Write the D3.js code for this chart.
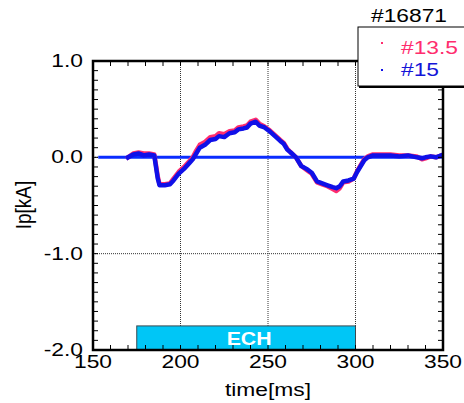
<!DOCTYPE html>
<html>
<head>
<meta charset="utf-8">
<script src="https://cdn.jsdelivr.net/npm/d3@7"></script>
<style>
  html, body { margin: 0; padding: 0; background: #ffffff; }
  svg { display: block; }
  text { font-family: "Liberation Sans", Arial, sans-serif; }
</style>
</head>
<body>
<svg id="chart" width="464" height="403"></svg>
<script>
// Plasma current Ip for shot #16871, two ECH settings
const timeMs = [170,173,176,179,182,185,186,187,188,191,194,196,199,202,205,207,209,211,214,217,220,222,225,228,231,233,236,238,240,243,245,248,251,254,257,259,261,263,266,269,272,275,278,281,284,287,289,291,293,296,299,301,303,305,307,310,315,320,325,330,335,338,340,343,346,349];
const ip135 = [0.00,0.04,0.05,0.04,0.04,0.03,-0.08,-0.20,-0.28,-0.28,-0.27,-0.22,-0.15,-0.10,-0.04,0.00,0.07,0.13,0.16,0.21,0.22,0.25,0.24,0.27,0.28,0.31,0.32,0.33,0.37,0.39,0.35,0.32,0.28,0.23,0.18,0.15,0.09,0.05,0.00,-0.09,-0.13,-0.17,-0.26,-0.28,-0.30,-0.33,-0.35,-0.32,-0.26,-0.25,-0.22,-0.14,-0.08,-0.02,0.01,0.03,0.03,0.03,0.02,0.02,0.01,-0.02,-0.01,0.01,0.00,0.02];
const ip15 = [0.00,0.03,0.04,0.02,0.03,0.02,-0.10,-0.22,-0.29,-0.29,-0.28,-0.24,-0.17,-0.12,-0.06,-0.02,0.04,0.10,0.13,0.18,0.19,0.22,0.21,0.25,0.26,0.29,0.30,0.31,0.35,0.37,0.33,0.31,0.27,0.22,0.17,0.14,0.08,0.05,0.00,-0.09,-0.12,-0.16,-0.25,-0.27,-0.29,-0.31,-0.32,-0.30,-0.25,-0.24,-0.22,-0.15,-0.09,-0.03,0.00,0.02,0.02,0.02,0.01,0.02,0.00,-0.01,0.00,0.01,0.00,0.02];
const baselineTime = [153, 350];
const baselineIp = [0, 0];
const echWindow = [175, 300];
const echLevel = [-2.0, -1.75];
const xTicks = [150, 200, 250, 300, 350];
const yTicks = [1.0, 0.0, -1.0, -2.0];
const seriesNames = ["#13.5", "#15"];
const shotLabel = "#16871";

const svg = d3.select("#chart");
const x = d3.scaleLinear().domain([150, 350]).range([93, 443]);
const y = d3.scaleLinear().domain([-2, 1]).range([350, 61]);
const SX = 1.2; // horizontal stretch of the lettering
const FS = 19;

const redC = "#ff2d6e", blueC = "#1010e8";

function label(g, px, py, str, opts) {
  const t = g.append("text")
    .attr("transform", `translate(${px},${py}) scale(${opts.sx || SX},1)`)
    .attr("font-size", opts.size || FS)
    .attr("text-anchor", opts.anchor || "start")
    .attr("fill", opts.fill || "#000")
    .text(str);
  if (opts.weight) t.attr("font-weight", opts.weight);
  return t;
}

// dotted grid
const grid = svg.append("g");
[200, 250, 300].forEach(v => grid.append("line")
  .attr("x1", x(v)).attr("x2", x(v)).attr("y1", y(1)).attr("y2", y(-2))
  .attr("stroke", "#333").attr("stroke-width", 1).attr("stroke-dasharray", "1,1"));
[0, -1].forEach(v => grid.append("line")
  .attr("x1", x(150)).attr("x2", x(350)).attr("y1", y(v)).attr("y2", y(v))
  .attr("stroke", "#333").attr("stroke-width", 1).attr("stroke-dasharray", "1,1"));

// ECH pulse bar
svg.append("rect")
  .attr("x", x(echWindow[0])).attr("y", y(echLevel[1]))
  .attr("width", x(echWindow[1]) - x(echWindow[0]))
  .attr("height", y(echLevel[0]) - y(echLevel[1]))
  .attr("fill", "#00c6f6").attr("stroke", "#3a4a50").attr("stroke-width", 1);
label(svg, (x(echWindow[0]) + x(echWindow[1])) / 2 + 3, 345, "ECH",
  { size: 19, sx: 1.12, anchor: "middle", fill: "#fff", weight: "bold" });

// traces
const line = d3.line().x(d => x(d[0])).y(d => y(d[1]));
svg.append("path")
  .attr("d", line(baselineTime.map((t, i) => [t, baselineIp[i]])))
  .attr("fill", "none").attr("stroke", "#0a2cff").attr("stroke-width", 3);
svg.append("path")
  .attr("d", line(timeMs.map((t, i) => [t, ip135[i]])))
  .attr("fill", "none").attr("stroke", redC).attr("stroke-width", 4.5)
  .attr("stroke-linejoin", "round").attr("stroke-linecap", "square");
svg.append("path")
  .attr("d", line(timeMs.map((t, i) => [t, ip15[i]])))
  .attr("fill", "none").attr("stroke", blueC).attr("stroke-width", 4.5)
  .attr("stroke-linejoin", "round").attr("stroke-linecap", "square");

// frame with inward minor ticks on all four sides
const frame = svg.append("g").attr("fill", "none").attr("stroke", "#000");
const minorX = d3.range(150, 351, 10);
const minorY = d3.range(-20, 11, 1).map(v => v / 10);
const tk = 5;
minorX.forEach(v => {
  frame.append("line").attr("x1", x(v)).attr("x2", x(v)).attr("y1", y(-2)).attr("y2", y(-2) - tk).attr("stroke-width", 1);
  frame.append("line").attr("x1", x(v)).attr("x2", x(v)).attr("y1", y(1)).attr("y2", y(1) + tk).attr("stroke-width", 1);
});
minorY.forEach(v => {
  frame.append("line").attr("x1", x(150)).attr("x2", x(150) + tk).attr("y1", y(v)).attr("y2", y(v)).attr("stroke-width", 1);
  frame.append("line").attr("x1", x(350)).attr("x2", x(350) - tk).attr("y1", y(v)).attr("y2", y(v)).attr("stroke-width", 1);
});
frame.append("rect")
  .attr("x", x(150)).attr("y", y(1))
  .attr("width", x(350) - x(150)).attr("height", y(-2) - y(1))
  .attr("stroke-width", 2.5);

// tick labels (plain hyphen for the minus sign)
const fmtY = v => d3.format(".1f")(v).replace("\u2212", "-");
xTicks.forEach(v => label(svg, x(v), 368, String(v), { anchor: "middle" }));
yTicks.forEach(v => label(svg, 83, y(v) + 6, fmtY(v), { anchor: "end" }));

// axis titles
label(svg, 268, 396, "time[ms]", { anchor: "middle" });
svg.append("text")
  .attr("transform", `translate(31,205) rotate(-90) scale(1,${SX})`)
  .attr("font-size", FS).attr("text-anchor", "middle").text("Ip[kA]");

// shot number and legend
label(svg, 409, 22, shotLabel, { anchor: "middle" });
const lg = svg.append("g");
lg.append("rect").attr("x", 359).attr("y", 29).attr("width", 110).attr("height", 59)
  .attr("fill", "#000");
lg.append("rect").attr("x", 358).attr("y", 27).attr("width", 110).attr("height", 59)
  .attr("fill", "#fff").attr("stroke", "#000").attr("stroke-width", 1);
[redC, blueC].forEach((c, i) => {
  lg.append("rect").attr("x", 381).attr("y", 42 + i * 27).attr("width", 2).attr("height", 2).attr("fill", c);
  label(lg, 401, 54 + i * 22, seriesNames[i], { fill: i === 0 ? "#ff2d6e" : "#1414d8" });
});
</script>
</body>
</html>
